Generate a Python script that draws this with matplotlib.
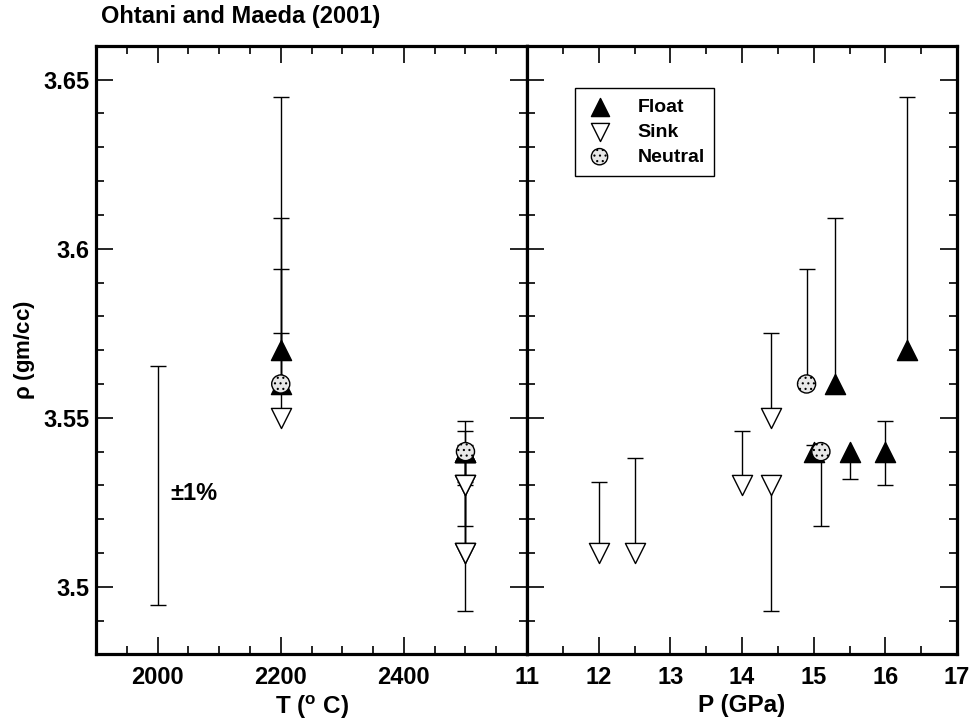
import matplotlib
matplotlib.use('Agg')
import matplotlib.pyplot as plt
from matplotlib.ticker import MultipleLocator, FixedLocator
import numpy as np

plt.rcParams['font.family'] = ['Liberation Sans', 'DejaVu Sans']
plt.rcParams['font.weight'] = 'bold'
plt.rcParams['mathtext.fontset'] = 'custom'
plt.rcParams['mathtext.rm'] = 'Liberation Sans'
plt.rcParams['mathtext.it'] = 'Liberation Sans:italic'
plt.rcParams['mathtext.bf'] = 'Liberation Sans:bold'
plt.rcParams['hatch.linewidth'] = 0.8

# experiments (Ohtani and Maeda 2001): run conditions, density, one-sided ranges
kind = ['sink', 'sink', 'sink', 'sink', 'sink', 'neutral', 'float', 'neutral',
        'float', 'float', 'float', 'float']
T = [2500, 2500, 2500, 2200, 2500, 2200, 2500, 2500, 2200, 2500, 2500, 2200]
P = [12.0, 12.5, 14.0, 14.4, 14.4, 14.9, 15.0, 15.1, 15.3, 15.5, 16.0, 16.3]
rho = [3.51, 3.51, 3.53, 3.55, 3.53, 3.56, 3.54, 3.54, 3.56, 3.54, 3.54, 3.57]
rho_lo = [3.51, 3.51, 3.53, 3.55, 3.493, 3.56, 3.54, 3.518, 3.56, 3.532, 3.530, 3.57]
rho_hi = [3.531, 3.538, 3.546, 3.575, 3.53, 3.594, 3.542, 3.54, 3.609, 3.54, 3.549, 3.645]

# +-1% reference bar
ref_T = 2000
ref_rho = 3.53
ref_pct = 0.01


def draw_bars(ax, xs, ys, lows, highs):
    # one-sided bars: cap only on the ends that differ from the point
    for x, y, lo, hi in zip(xs, ys, lows, highs):
        ax.vlines(x, lo, hi, color='black', lw=1.0, zorder=2)
        ends = [v for v in (lo, hi) if abs(v - y) > 1e-9]
        ax.plot([x] * len(ends), ends, ls='none', marker='_', ms=12, mew=1.0,
                color='black', zorder=2)


fig = plt.figure(figsize=(9.78, 7.22), dpi=100)
axT = fig.add_axes([0.0982, 0.0935, 0.4407, 0.843])
axP = fig.add_axes([0.5389, 0.0935, 0.4397, 0.843], sharey=axT)

styles = {
    'float': dict(marker='^', s=210, facecolors='black', edgecolors='black', label='Float'),
    'sink': dict(marker='v', s=210, facecolors='white', edgecolors='black', label='Sink'),
    'neutral': dict(marker='o', s=170, facecolors='#e8e8e8', edgecolors='black',
                    hatch='...', label='Neutral'),
}

for ax, xs in ((axT, T), (axP, P)):
    draw_bars(ax, xs, rho, rho_lo, rho_hi)
    xs = np.array(xs)
    for k in ('float', 'sink', 'neutral'):
        idx = [i for i, kk in enumerate(kind) if kk == k]
        ax.scatter(xs[idx], np.array(rho)[idx], linewidths=1.0, zorder=3, **styles[k])

draw_bars(axT, [ref_T], [ref_rho], [ref_rho * (1 - ref_pct)], [ref_rho * (1 + ref_pct)])
axT.text(2020, ref_rho - 0.0025, '±1%', fontsize=17, fontweight='bold', va='center', ha='left')

axT.set_xlim(1900, 2600)
axP.set_xlim(11, 17)
axT.set_ylim(3.48, 3.66)

axT.xaxis.set_major_locator(FixedLocator([2000, 2200, 2400]))
axT.xaxis.set_minor_locator(MultipleLocator(50))
axP.xaxis.set_major_locator(MultipleLocator(1))
axP.xaxis.set_minor_locator(MultipleLocator(0.5))
axT.yaxis.set_major_locator(FixedLocator([3.5, 3.55, 3.6, 3.65]))
axT.yaxis.set_minor_locator(MultipleLocator(0.01))
axT.set_yticklabels(['3.5', '3.55', '3.6', '3.65'])

for ax in (axT, axP):
    ax.tick_params(which='both', direction='in', top=True, right=True, width=1.2,
                   labelsize=17)
    ax.tick_params(axis='x', pad=8)
    ax.tick_params(axis='y', pad=5)
    ax.tick_params(which='major', length=12)
    ax.tick_params(which='minor', length=6)
    for sp in ax.spines.values():
        sp.set_linewidth(2.3)
    for lab in ax.get_xticklabels() + ax.get_yticklabels():
        lab.set_fontweight('bold')
axP.tick_params(labelleft=False)

axT.set_xlabel(r'T ($^{\mathbf{o}}$ C)', fontsize=17.5, fontweight='bold', labelpad=4)
axP.set_xlabel('P (GPa)', fontsize=17.5, fontweight='bold', labelpad=4)
axT.set_ylabel(r'$\mathrm{\rho}$ (gm/cc)', fontsize=16, fontweight='bold', labelpad=4)

fig.text(0.103, 0.968, 'Ohtani and Maeda (2001)', fontsize=17, fontweight='bold',
         ha='left', va='baseline')

leg = axP.legend(loc='upper left', bbox_to_anchor=(0.112, 0.93), fontsize=14,
                 frameon=True, fancybox=False, edgecolor='black', framealpha=1,
                 borderpad=0.5, handletextpad=1.2, labelspacing=0.38,
                 borderaxespad=0, scatterpoints=1, handlelength=1.5, markerscale=0.9)
leg.get_frame().set_linewidth(1.0)
for t in leg.get_texts():
    t.set_fontweight('bold')

fig.savefig('out.png', dpi=100)
